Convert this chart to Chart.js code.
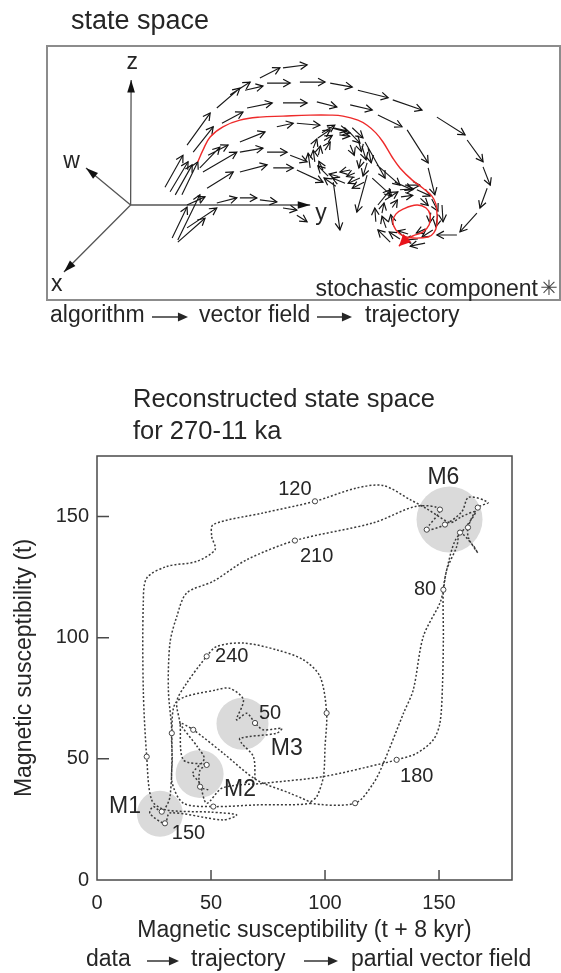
<!DOCTYPE html>
<html>
<head>
<meta charset="utf-8">
<script src="https://cdn.jsdelivr.net/npm/chart.js@4.4.0/dist/chart.umd.min.js"></script>
<style>
  body { margin: 0; background: #fff; }
  #top { position: absolute; left: 0; top: 0; width: 561px; height: 345px; }
  #bottom { position: absolute; left: 0; top: 345px; width: 561px; height: 628px; }
</style>
</head>
<body>
<div id="top"><canvas id="stateSpaceChart"></canvas></div>
<div id="bottom"><canvas id="reconstructedChart"></canvas></div>
<script>
// ---------- top panel: schematic state space (units: x 0-100, y 0-50) ----------
// each arrow: [fromX, fromY, toX, toY]
const outerArc = [
  [33.1,37.8,37.6,41.7],[35.7,40.4,39.6,42.9],[38.6,41.3,42.1,42.1],[41.5,43.7,45.4,45.7],
  [46.0,45.7,50.7,46.3],[42.9,42.7,47.4,42.7],[49.3,42.9,54.2,42.9],[55.2,42.7,59.5,41.9],
  [60.6,41.3,66.5,39.8],[67.4,39.4,73.1,37.4],[76.0,36.0,81.5,32.5],[81.9,31.5,85.0,27.2],
  [85.0,26.2,86.4,22.6],[85.8,22.0,84.4,18.1],[83.8,17.1,80.5,13.4],[79.9,12.8,76.0,12.8]
];
const innerRows = [
  [27.3,30.5,31.8,36.8],[34.1,34.8,38.2,37.0],[39.0,37.8,43.9,38.8],[46.0,38.8,50.7,38.8],
  [52.6,39.0,56.5,38.0],[59.1,38.4,63.4,37.4],[64.5,36.4,69.2,34.1],[70.2,33.5,74.3,27.0],
  [74.3,26.0,75.6,20.7],[28.5,29.1,32.4,34.1],[31.4,28.5,35.3,30.5],[37.6,31.1,42.5,33.1],
  [44.8,34.1,48.0,34.8],[48.7,34.8,53.2,34.4],[54.6,34.1,59.1,32.9],[29.8,26.0,33.7,30.1],
  [30.4,25.2,37.0,29.1],[37.6,29.1,42.1,29.9],[42.9,29.1,46.8,29.1],[47.4,28.5,50.7,27.2],
  [31.2,22.0,36.3,25.2],[37.6,25.2,42.9,26.6],[44.1,26.0,48.0,26.0],[48.7,25.6,53.8,23.2],
  [55.8,23.2,57.1,13.8],[62.4,24.6,60.4,17.3],[64.3,26.6,68.8,22.6],[62.0,31.1,65.9,24.0],
  [63.4,24.0,67.2,20.5],[67.8,23.2,71.2,21.7]
];
const lowerRows = [
  [27.3,18.7,30.8,20.3],[33.1,19.1,37.0,20.1],[37.6,20.1,40.9,20.1],[41.5,19.7,44.8,19.3],
  [46.0,18.1,48.7,17.7],[48.7,16.7,50.7,15.4],[23.0,22.2,26.5,28.5],[24.0,21.3,27.5,27.2],
  [25.0,20.7,28.3,26.6],[26.3,20.7,29.4,27.2],[24.4,12.2,27.3,18.3],[25.5,11.4,30.8,16.1],
  [25.5,11.8,29.8,20.7],[27.3,14.2,33.1,18.1]
];
const eddyRing = [
  [52.8,31.9,55.2,33.5],[55.8,33.9,58.5,33.3],[59.1,32.9,61.0,30.9],[61.4,30.3,62.2,27.6],
  [62.4,27.0,61.6,24.4],[61.0,24.0,58.7,23.0],[58.1,23.0,55.6,24.0],[54.8,24.4,52.8,26.4],
  [52.2,27.2,51.9,29.5],[51.9,29.9,52.6,31.7],[53.6,32.9,56.1,34.4],[59.5,33.9,61.6,31.9],
  [62.6,29.9,63.2,27.0],[61.8,23.2,59.5,22.0],[56.3,22.4,54.0,24.0],[51.3,26.0,50.9,28.9],
  [54.2,29.5,55.2,31.1],[59.1,30.5,59.9,28.5],[59.1,25.6,57.1,25.2],
  [57.0,32.5,59.0,32.2],[60.8,31.0,61.3,29.2],[61.2,27.8,60.8,26.0],[60.0,25.0,58.4,24.3],
  [56.8,24.3,55.0,24.8],[53.8,25.6,53.0,27.3],[52.9,28.5,53.3,30.3],[54.0,31.4,55.6,32.4]
];
const spiralRing = [
  [65.9,19.7,68.4,21.3],[68.8,21.7,71.5,21.9],[72.1,21.7,74.7,20.5],[75.0,19.9,76.2,17.5],
  [76.2,16.9,75.8,14.4],[75.2,13.8,73.1,12.4],[72.3,12.0,69.6,11.8],[68.8,12.0,66.7,13.4],
  [66.1,14.2,65.3,16.5],[65.3,17.1,65.7,19.1],[64.5,18.7,66.9,21.7],[69.8,22.6,72.7,22.6],
  [77.0,18.7,77.2,15.4],[73.7,11.2,70.8,10.6],[66.9,11.4,64.5,13.8],[64.1,15.4,63.9,18.1],
  [69.0,20.3,71.3,20.6],[72.8,20.0,74.3,18.6],[74.8,17.2,74.6,15.2],[73.8,14.0,72.0,13.2],
  [70.4,13.0,68.4,13.6],[67.4,14.8,67.0,16.8],[67.3,18.2,68.3,19.7]
];
// red trajectory through the field
const redX = [29.4,30.4,31.8,34.3,37.6,41.5,46.0,51.3,55.2,57.7,60.6,62.4,64.1,65.5,67.3,68.8,71.2,73.3,75.0,75.8,
  76.0,76.0,75.4,74.3,71.3,69.4,68.0,67.4,68.0,69.4,72.1,73.9,74.7,74.5,73.3,71.3,69.8,68.6];
const redY = [27.2,29.5,32.1,34.1,35.4,36.0,36.2,36.4,36.4,36.2,35.4,34.4,32.9,31.1,28.1,26.0,23.6,22.0,20.5,18.9,
  17.3,14.8,13.2,12.4,12.2,12.6,13.8,15.4,16.9,17.9,18.7,18.1,16.7,14.8,13.4,12.6,11.8,10.6];
// coordinate axes of the sketch
const axisNames = ['z', 'y', 'w', 'x'];
const axisOrigin = [16.3, 18.7];
const axisTipX = [16.4, 51.3, 7.6, 3.3];
const axisTipY = [43.3, 18.7, 26.0, 5.5];
const axisLabelX = [16.6, 53.4, 4.8, 1.9];
const axisLabelY = [46.8, 17.0, 27.2, 3.0];

// ---------- bottom panel: reconstructed state space ----------
const trajX = [48.8,45.2,45.2,48.1,37.9,36.4,35,39.3,48.1,
  52.5,64.2,78.8,90.5,97.8,100.7,100,99.3,96.4,93.4,
  113.2,121.2,125.6,134.4,138.7,143.1,150.4,151.9,153.4,157.8,
  159.2,165,167,163,162.7,167,171.5,163,160,152.6,144.6,150.4,140.2,
  121.2,86.8,65.7,51,39.3,35,32,31.3,32.8,32,
  28.4,24.7,23.2,29.8,32,55.4,61.2,50,30,24,
  21.8,20.3,20.3,21.8,30.6,43.7,51.8,50.3,51,72.9,95.6,113.9,125.6,137.3,
  145,150,155,160,166,162,157,
  153.4,151.9,151.9,151.5,150.4,147.5,140.2,131.4,125.6,99.3,72.9,
  55,48.1,45,42,47,44,
  36.4,42.2,55.4,70,84.6,93.4,70,51,37.9,33,33,32.8,35,52.5,58.3,64.2,
  61.2,65.7,69.3,72.9,81,78.8,62.7,63.5,68.6,69.3];
const trajY = [37.2,38.5,45.5,47.5,49.6,64.7,73.7,81.2,92.3,
  96.4,97.8,95,90.9,84,68.9,55,42.7,34.4,31.7,
  31.7,39.9,48.2,68.8,78.5,100.5,114.3,119.8,128.1,137.7,
  143.4,138,135,141,145.5,153.7,155.8,158,152,146.7,144.6,152.9,154.3,
  147.4,140.1,132.2,123.3,118.4,108.8,97.8,78.5,60.6,34.4,
  28.2,30.3,27.5,23.4,27.7,24.8,26.9,28,29,33,
  50.9,78.5,114.3,124.6,129.4,131.5,136.4,141.8,146.7,151.5,156.3,161.8,162.8,157,
  153,150,147.5,150,152,146,140,
  128.1,119.8,100,80,64.8,57.9,52.3,49.6,48.2,42.7,39.9,
  38,31.7,40,44,50,55,
  64.7,62,52.3,41.3,35.8,31.7,31,30.3,31.7,40,50,60.6,73.7,78.5,79.1,74.4,
  66.1,68.8,64.8,62,62.6,60.6,58.5,56.4,50.9,41.3];
// small circles along the trajectory
const markX = [48.1,100.7,113.2,151.9,86.8,32.8,29.8,21.8,95.6,131.4,42.2,51,69.3,
  167,150.4,152.6,159.2,162.7,144.6,48.1,45.2,28.4];
const markY = [92.3,68.9,31.7,119.8,140.1,60.6,23.4,50.9,156.3,49.6,62,30.3,64.8,
  153.7,152.9,146.7,143.4,145.5,144.6,47.5,38.5,28.2];
// grey state regions
const regionNames = ['M1', 'M2', 'M3', 'M6'];
const regionX = [27.6, 45, 63.8, 154.6];
const regionY = [27.3, 43.8, 64.5, 148.8];
// annotations (ages in ka and regime names)
const noteText = ['120','210','80','240','50','180','150','M6','M3','M2','M1'];
const noteX = [86.8,96.3,143.9,59.1,75.9,140.2,40.1,151.9,83.2,62.7,12.3];
const noteY = [161.2,133.5,119.8,92.3,68.9,42.7,19.3,166,54.4,37.2,30.3];

const FONT = "'Liberation Sans', Arial, sans-serif";
const INK = '#262626';

function arrowHead(ctx, x0, y0, x1, y1, len, spread, filled) {
  const a = Math.atan2(y1 - y0, x1 - x0);
  const ax = x1 - len * Math.cos(a - spread), ay = y1 - len * Math.sin(a - spread);
  const bx = x1 - len * Math.cos(a + spread), by = y1 - len * Math.sin(a + spread);
  ctx.beginPath();
  if (filled) {
    ctx.moveTo(x1, y1); ctx.lineTo(ax, ay); ctx.lineTo(bx, by); ctx.closePath(); ctx.fill();
  } else {
    ctx.moveTo(ax, ay); ctx.lineTo(x1, y1); ctx.lineTo(bx, by); ctx.stroke();
  }
}

// caption like "a -> b -> c"
function caption(ctx, words, arrows, y, size) {
  ctx.save();
  ctx.fillStyle = INK; ctx.strokeStyle = INK;
  ctx.font = size + 'px ' + FONT;
  ctx.textBaseline = 'middle'; ctx.textAlign = 'left';
  words.forEach(w => ctx.fillText(w[0], w[1], y));
  ctx.lineWidth = 1.4;
  arrows.forEach(a => {
    ctx.beginPath(); ctx.moveTo(a[0], y + 1); ctx.lineTo(a[1] - 6, y + 1); ctx.stroke();
    arrowHead(ctx, a[0], y + 1, a[1], y + 1, 11, 0.42, true);
  });
  ctx.restore();
}

function segments(list) {
  const pts = [];
  list.forEach(s => pts.push({x: s[0], y: s[1]}, {x: s[2], y: s[3]}, {x: null, y: null}));
  return pts;
}

const fieldArrows = outerArc.concat(innerRows, lowerRows, eddyRing, spiralRing);
const axisSegs = axisTipX.map((x, i) => [axisOrigin[0], axisOrigin[1], x, axisTipY[i]]);

const sketchPlugin = {
  id: 'sketch',
  afterDatasetDraw(chart, args) {
    const ctx = chart.ctx;
    const meta = args.meta;
    ctx.save();
    if (args.index === 1 || args.index === 2) {
      const filled = args.index === 2;
      ctx.strokeStyle = '#111'; ctx.fillStyle = '#111'; ctx.lineWidth = 1.2;
      for (let i = 0; i + 1 < meta.data.length; i += 3) {
        const p0 = meta.data[i], p1 = meta.data[i + 1];
        if (filled) arrowHead(ctx, p0.x, p0.y, p1.x, p1.y, 13, 0.3, true);
        else arrowHead(ctx, p0.x, p0.y, p1.x, p1.y, 8, 0.5, false);
      }
    }
    if (args.index === 0) {
      const n = meta.data.length;
      const p0 = meta.data[n - 2], p1 = meta.data[n - 1];
      ctx.fillStyle = '#e8141c';
      arrowHead(ctx, p0.x, p0.y, p1.x, p1.y, 13, 0.45, true);
    }
    ctx.restore();
  },
  afterDraw(chart) {
    const {ctx, chartArea: a, scales: {x, y}} = chart;
    ctx.save();
    ctx.strokeStyle = '#8c8c8c'; ctx.lineWidth = 2;
    ctx.strokeRect(a.left, a.top, a.right - a.left, a.bottom - a.top);
    ctx.fillStyle = INK; ctx.textAlign = 'center'; ctx.textBaseline = 'middle';
    ctx.font = '23px ' + FONT;
    axisNames.forEach((t, i) => ctx.fillText(t, x.getPixelForValue(axisLabelX[i]), y.getPixelForValue(axisLabelY[i])));
    ctx.textAlign = 'left';
    ctx.font = '27px ' + FONT;
    ctx.fillText('state space', 71, 22);
    ctx.font = '23px ' + FONT;
    ctx.textAlign = 'right';
    ctx.fillText('stochastic component', 538, 290);
    ctx.textAlign = 'center';
    ctx.font = '21px DejaVu Sans';
    ctx.fillStyle = '#444';
    ctx.fillText('\u2733', 549, 290);
    ctx.restore();
    caption(ctx, [['algorithm', 50], ['vector field', 199], ['trajectory', 365]], [[152, 188], [317, 352]], 316, 23);
  }
};

new Chart(document.getElementById('stateSpaceChart'), {
  type: 'scatter',
  data: {
    datasets: [
      {
        label: 'trajectory',
        data: redX.map((v, i) => ({x: v, y: redY[i]})),
        showLine: true, borderColor: '#ee2a2a', borderWidth: 1.4,
        pointRadius: 0, tension: 0.4, order: 0
      },
      {
        label: 'vector field',
        data: segments(fieldArrows),
        showLine: true, borderColor: '#1a1a1a', borderWidth: 1.15,
        pointRadius: 0, spanGaps: false, order: 1
      },
      {
        label: 'axes',
        data: segments(axisSegs),
        showLine: true, borderColor: '#555', borderWidth: 1.3,
        pointRadius: 0, spanGaps: false, order: 2
      }
    ]
  },
  options: {
    responsive: true,
    maintainAspectRatio: false,
    animation: false,
    events: [],
    layout: { padding: { left: 47, top: 46, right: 1, bottom: 45 } },
    scales: {
      x: { type: 'linear', display: false, min: 0, max: 100 },
      y: { type: 'linear', display: false, min: 0, max: 50 }
    },
    plugins: { legend: { display: false }, tooltip: { enabled: false } }
  },
  plugins: [sketchPlugin]
});

// ---------- bottom chart ----------
const framePlugin = {
  id: 'frame',
  afterDatasetsDraw(chart) {
    const {ctx, scales: {x, y}} = chart;
    ctx.save();
    ctx.fillStyle = INK; ctx.textAlign = 'center'; ctx.textBaseline = 'middle';
    noteText.forEach((t, i) => {
      ctx.font = (t.charAt(0) === 'M' ? '23px ' : '20px ') + FONT;
      ctx.fillText(t, x.getPixelForValue(noteX[i]), y.getPixelForValue(noteY[i]));
    });
    ctx.restore();
  },
  afterDraw(chart) {
    const {ctx, chartArea: a, scales: {x, y}} = chart;
    ctx.save();
    ctx.strokeStyle = '#4a4a4a'; ctx.lineWidth = 1.5;
    ctx.strokeRect(a.left, a.top, a.right - a.left, a.bottom - a.top);
    ctx.beginPath();
    x.ticks.forEach(t => {
      if (t.value === 0) return;
      const px = x.getPixelForValue(t.value);
      ctx.moveTo(px, a.bottom); ctx.lineTo(px, a.bottom - 10);
    });
    y.ticks.forEach(t => {
      if (t.value === 0) return;
      const py = y.getPixelForValue(t.value);
      ctx.moveTo(a.left, py); ctx.lineTo(a.left + 12, py);
    });
    ctx.stroke();
    ctx.fillStyle = INK; ctx.textAlign = 'left'; ctx.textBaseline = 'middle';
    ctx.font = '25.5px ' + FONT;
    ctx.fillText('Reconstructed state space', 133, 55);
    ctx.fillText('for 270-11 ka', 133, 87);
    ctx.restore();
    caption(ctx, [['data', 86], ['trajectory', 191], ['partial vector field', 351]], [[147, 179], [304, 338]], 615, 23);
  }
};

const tickFont = { family: FONT, size: 20 };
const titleFont = { family: FONT, size: 23 };

new Chart(document.getElementById('reconstructedChart'), {
  type: 'scatter',
  data: {
    datasets: [
      {
        label: 'markers',
        data: markX.map((v, i) => ({x: v, y: markY[i]})),
        pointRadius: 2.6, pointBackgroundColor: '#fff',
        pointBorderColor: '#444', pointBorderWidth: 1, order: 1
      },
      {
        label: 'trajectory',
        data: trajX.map((v, i) => ({x: v, y: trajY[i]})),
        showLine: true, borderColor: '#3a3a3a', borderWidth: 1.5,
        borderDash: [2, 2], pointRadius: 0, tension: 0.3, order: 2
      },
      {
        label: 'regions',
        data: regionX.map((v, i) => ({x: v, y: regionY[i]})),
        pointRadius: [23, 24, 26, 33], pointBackgroundColor: '#dadada',
        pointBorderWidth: 0, order: 3
      }
    ]
  },
  options: {
    responsive: true,
    maintainAspectRatio: false,
    animation: false,
    events: [],
    layout: { padding: { left: 0, top: 111, right: 49, bottom: 29 } },
    scales: {
      x: {
        type: 'linear', min: 0, max: 182,
        afterFit: s => { s.height = 64; },
        grid: { display: false, drawTicks: false },
        border: { display: false },
        ticks: { stepSize: 50, includeBounds: false, padding: 11, color: INK, font: tickFont, maxRotation: 0 },
        title: { display: true, text: 'Magnetic susceptibility (t + 8 kyr)', color: INK, font: titleFont, padding: 0 }
      },
      y: {
        type: 'linear', min: 0, max: 175,
        afterFit: s => { s.width = 97; },
        grid: { display: false, drawTicks: false },
        border: { display: false },
        ticks: { stepSize: 50, includeBounds: false, padding: 8, color: INK, font: tickFont },
        title: { display: true, text: 'Magnetic susceptibility (t)', color: INK, font: titleFont, padding: { top: 11, bottom: 0 } }
      }
    },
    plugins: { legend: { display: false }, tooltip: { enabled: false } }
  },
  plugins: [framePlugin]
});
</script>
</body>
</html>
